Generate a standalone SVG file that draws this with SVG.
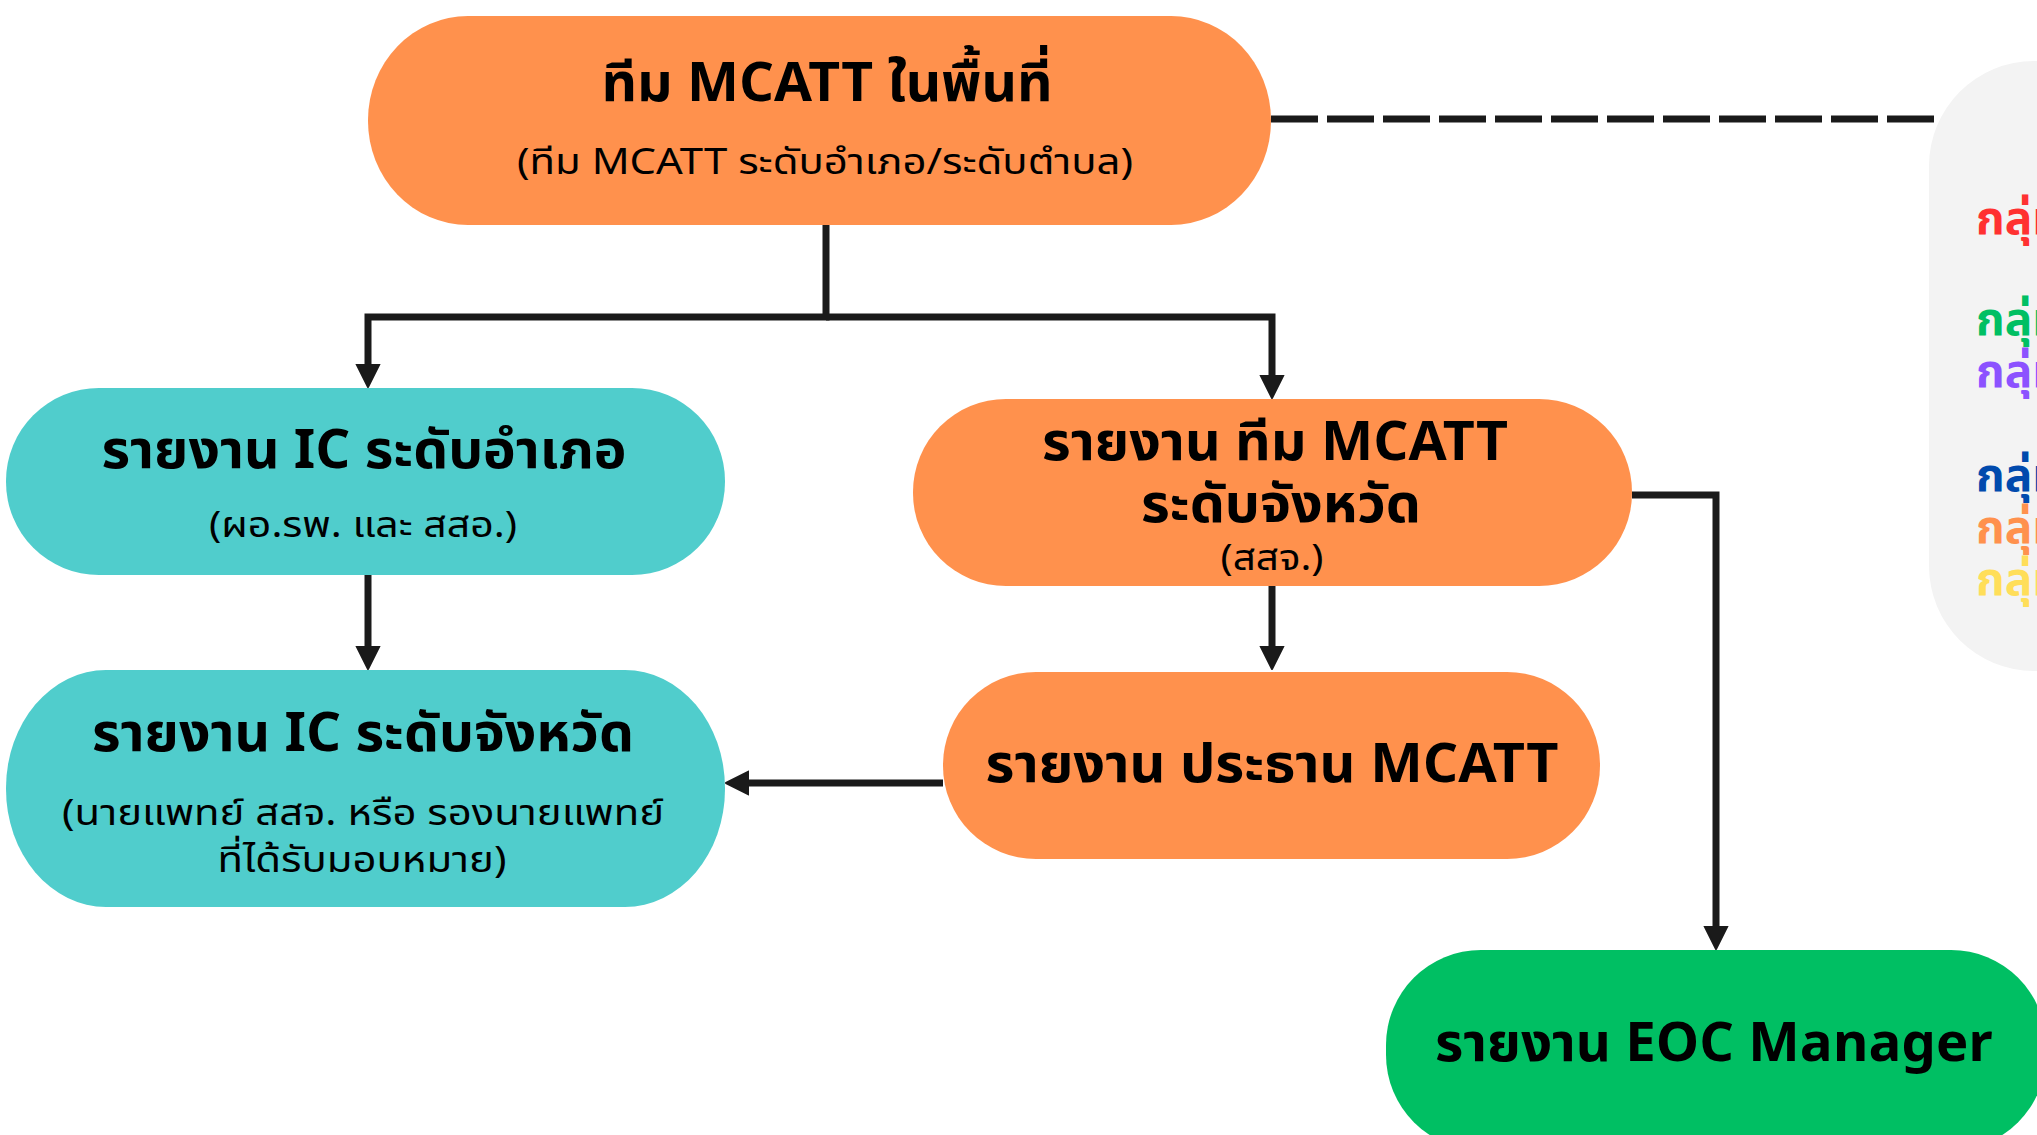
<svg xmlns="http://www.w3.org/2000/svg" width="2037" height="1135" viewBox="0 0 2037 1135">
  <style>
    .t { font-family: "Noto Sans Thai", "Noto Sans", "DejaVu Sans", sans-serif; fill: #000; text-anchor: middle; }
    .h { font-weight: 700; font-size: 54px; }
    .s { font-weight: 400; font-size: 36px; }
    .orange { fill: #FF914D; }
    .teal { fill: #50CDCC; }
    .green { fill: #00BF63; }
    .conn { fill: none; stroke: #1A1A1A; stroke-width: 7; stroke-linejoin: miter; }
    .p { font-family: "Noto Sans Thai", "Noto Sans", sans-serif; font-weight: 700; font-size: 46px; }
  </style>
  <defs>
    <marker id="arr" markerUnits="userSpaceOnUse" viewBox="0 0 24 26" refX="0" refY="13" markerWidth="24" markerHeight="26" orient="auto">
      <path d="M0,1.5 L23,13 L0,24.5 Z" fill="#1A1A1A" stroke="#1A1A1A" stroke-width="2" stroke-linejoin="round"/>
    </marker>
  </defs>
  <rect width="2037" height="1135" fill="#FFFFFF"/>

  <g id="panel">
    <rect x="1929" y="61" width="240" height="610" rx="105" ry="105" fill="#F3F3F3"/>
    <text class="p" x="1976" y="234" fill="#FF3131">กลุ่ม</text>
    <text class="p" x="1976" y="335" fill="#00BF63">กลุ่ม</text>
    <text class="p" x="1976" y="387" fill="#8C52FF">กลุ่ม</text>
    <text class="p" x="1976" y="491" fill="#004AAD">กลุ่ม</text>
    <text class="p" x="1976" y="543" fill="#FF914D">กลุ่ม</text>
    <text class="p" x="1976" y="595" fill="#FFDE59">กลุ่ม</text>
  </g>

  <g id="connectors">
    <path class="conn" d="M1271,119 H1936" stroke-dasharray="47 9"/>
    <path class="conn" d="M826,225 V317 H368 V364" marker-end="url(#arr)"/>
    <path class="conn" d="M826,317 H1272 V375" marker-end="url(#arr)"/>
    <path class="conn" d="M368,575 V646" marker-end="url(#arr)"/>
    <path class="conn" d="M1272,586 V646" marker-end="url(#arr)"/>
    <path class="conn" d="M943,783 H749" marker-end="url(#arr)"/>
    <path class="conn" d="M1632,495 H1716 V926" marker-end="url(#arr)"/>
  </g>

  <g id="node-top">
    <rect class="orange" x="368" y="16" width="903" height="209" rx="100" ry="104"/>
    <text class="t h" x="827" y="101" textLength="451" lengthAdjust="spacingAndGlyphs">ทีม MCATT ในพื้นที่</text>
    <text class="t s" x="825" y="174" textLength="616" lengthAdjust="spacingAndGlyphs">(ทีม MCATT ระดับอำเภอ/ระดับตำบล)</text>
  </g>

  <g id="node-ic-district">
    <rect class="teal" x="6" y="388" width="719" height="187" rx="93" ry="93"/>
    <text class="t h" x="364" y="468" textLength="525" lengthAdjust="spacingAndGlyphs">รายงาน IC ระดับอำเภอ</text>
    <text class="t s" x="363" y="537" textLength="308" lengthAdjust="spacingAndGlyphs">(ผอ.รพ. และ สสอ.)</text>
  </g>

  <g id="node-ic-province">
    <rect class="teal" x="6" y="670" width="719" height="237" rx="100" ry="118"/>
    <text class="t h" x="363" y="751" textLength="542" lengthAdjust="spacingAndGlyphs">รายงาน IC ระดับจังหวัด</text>
    <text class="t s" x="363" y="825" textLength="602" lengthAdjust="spacingAndGlyphs">(นายแพทย์ สสจ. หรือ รองนายแพทย์</text>
    <text class="t s" x="362" y="872" textLength="289" lengthAdjust="spacingAndGlyphs">ที่ได้รับมอบหมาย)</text>
  </g>

  <g id="node-mcatt-province">
    <rect class="orange" x="913" y="399" width="719" height="187" rx="93" ry="93"/>
    <text class="t h" x="1275" y="460" textLength="466" lengthAdjust="spacingAndGlyphs">รายงาน ทีม MCATT</text>
    <text class="t h" x="1281" y="522" textLength="280" lengthAdjust="spacingAndGlyphs">ระดับจังหวัด</text>
    <text class="t s" x="1272" y="570" textLength="103" lengthAdjust="spacingAndGlyphs">(สสจ.)</text>
  </g>

  <g id="node-chair">
    <rect class="orange" x="943" y="672" width="657" height="187" rx="93" ry="93"/>
    <text class="t h" x="1272" y="782" textLength="573" lengthAdjust="spacingAndGlyphs">รายงาน ประธาน MCATT</text>
  </g>

  <g id="node-eoc">
    <rect class="green" x="1386" y="950" width="660" height="200" rx="95" ry="95"/>
    <text class="t h" x="1714" y="1061" textLength="558" lengthAdjust="spacingAndGlyphs">รายงาน EOC Manager</text>
  </g>
</svg>
